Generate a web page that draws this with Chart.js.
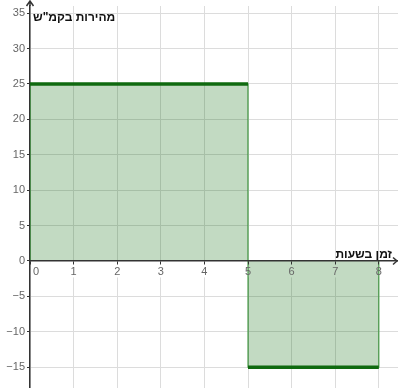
<!DOCTYPE html>
<html>
<head>
<meta charset="utf-8">
<script src="https://cdn.jsdelivr.net/npm/chart.js@4"></script>
<style>
  html, body { margin: 0; padding: 0; background: #fff; }
  #wrap { width: 398px; height: 388px; }
</style>
</head>
<body>
<div id="wrap"><canvas id="speedChart"></canvas></div>
<script>
// time breakpoints (hours) and speed on each interval (km/h)
const timeHours = [0, 5, 8];
const speedKmh = [25, -15];
const xTicks = [0, 1, 2, 3, 4, 5, 6, 7, 8];
const yTicks = [-15, -10, -5, 0, 5, 10, 15, 20, 25, 30, 35];
const xTitle = 'זמן בשעות';
const yTitle = 'מהירות בקמ"ש';

const darkGreen = '#0f6a0f';
const edgeGreen = '#4c9e4c';
const fillGreen = 'rgba(0, 100, 0, 0.24)';

// one flat segment per interval
let segments = [];
for (let i = 0; i < speedKmh.length; i++) {
    segments.push({
        data: [{x: timeHours[i], y: speedKmh[i]}, {x: timeHours[i + 1], y: speedKmh[i]}],
        borderColor: darkGreen,
        borderWidth: 3.5,
        backgroundColor: fillGreen,
        fill: 'origin',
        pointRadius: 0,
        borderCapStyle: 'butt'
    });
}

// thin outline of the rectangles
let outline = [{x: timeHours[0], y: 0}];
for (let i = 0; i < speedKmh.length; i++) {
    outline.push({x: timeHours[i], y: speedKmh[i]});
    outline.push({x: timeHours[i + 1], y: speedKmh[i]});
}
outline.push({x: timeHours[timeHours.length - 1], y: 0});

const setTicks = list => scale => { scale.ticks = list.map(v => ({value: v})); };
const fitX = scale => { scale.height = 0; scale.paddingLeft = 0; scale.paddingRight = 0; };
const fitY = scale => { scale.width = 30; scale.paddingTop = 0; scale.paddingBottom = 0; };

const minusLabel = v => v < 0 ? '\u2212' + Math.abs(v) : String(v);

// gap in the vertical grid under the x labels, then arrows and titles
const extras = {
    id: 'extras',
    beforeDatasetsDraw(chart) {
        const {ctx, chartArea, scales} = chart;
        const y0 = scales.y.getPixelForValue(0);
        ctx.save();
        ctx.fillStyle = '#fff';
        ctx.fillRect(chartArea.left + 1, y0 + 1.5, chartArea.right - chartArea.left, 15);
        ctx.restore();
    },
    afterDraw(chart) {
        const {ctx, chartArea, scales} = chart;
        const x0 = scales.x.getPixelForValue(0);
        const y0 = scales.y.getPixelForValue(0);
        ctx.save();
        ctx.strokeStyle = '#333';
        ctx.lineWidth = 1.5;
        ctx.beginPath();
        ctx.moveTo(x0, chartArea.top);
        ctx.lineTo(x0, 1);
        ctx.moveTo(x0 - 3.5, 6);
        ctx.lineTo(x0, 1);
        ctx.lineTo(x0 + 3.5, 6);
        ctx.moveTo(chartArea.right - 5, y0 - 3.5);
        ctx.lineTo(chartArea.right - 1, y0);
        ctx.lineTo(chartArea.right - 5, y0 + 3.5);
        ctx.stroke();

        ctx.fillStyle = '#111';
        ctx.font = 'bold 12px "Liberation Sans", Arial, sans-serif';
        ctx.direction = 'rtl';
        ctx.textBaseline = 'alphabetic';
        ctx.textAlign = 'left';
        ctx.fillText(yTitle, x0 + 3, 21);
        ctx.textAlign = 'right';
        ctx.fillText(xTitle, chartArea.right - 6, y0 - 3);
        ctx.restore();
    }
};

const tickFont = {family: '"Liberation Sans", Arial, sans-serif', size: 11};

new Chart(document.getElementById('speedChart'), {
    type: 'line',
    data: {
        datasets: segments.concat([{
            data: outline,
            borderColor: edgeGreen,
            borderWidth: 1.2,
            pointRadius: 0,
            fill: false
        }])
    },
    options: {
        responsive: true,
        maintainAspectRatio: false,
        animation: false,
        layout: {padding: {left: 0, top: 6, right: 0, bottom: 0}},
        plugins: {legend: {display: false}, tooltip: {enabled: false}},
        scales: {
            xGrid: {
                type: 'linear',
                axis: 'x',
                position: 'bottom',
                min: 0,
                max: 8.44,
                afterBuildTicks: setTicks(xTicks),
                afterFit: fitX,
                ticks: {display: false},
                border: {display: false},
                grid: {color: '#dcdcdc', lineWidth: 1, drawTicks: false}
            },
            x: {
                type: 'linear',
                position: {y: 0},
                min: 0,
                max: 8.44,
                afterBuildTicks: setTicks(xTicks),
                afterFit: fitX,
                border: {color: '#333', width: 1.5, z: 1},
                grid: {drawOnChartArea: false, tickLength: 3, tickColor: '#333', z: 1},
                ticks: {color: '#666', font: tickFont, padding: 1, maxRotation: 0, autoSkip: false, z: 1,
                        callback: v => v === 0 ? '    0' : minusLabel(v)}
            },
            y: {
                type: 'linear',
                position: 'left',
                min: -17.94,
                max: 36.0,
                afterBuildTicks: setTicks(yTicks),
                afterFit: fitY,
                border: {color: '#333', width: 1.5},
                grid: {color: '#dcdcdc', lineWidth: 1, tickLength: 3, tickColor: '#333'},
                ticks: {color: '#666', font: tickFont, padding: 2, autoSkip: false, callback: minusLabel}
            }
        }
    },
    plugins: [extras]
});
</script>
</body>
</html>
